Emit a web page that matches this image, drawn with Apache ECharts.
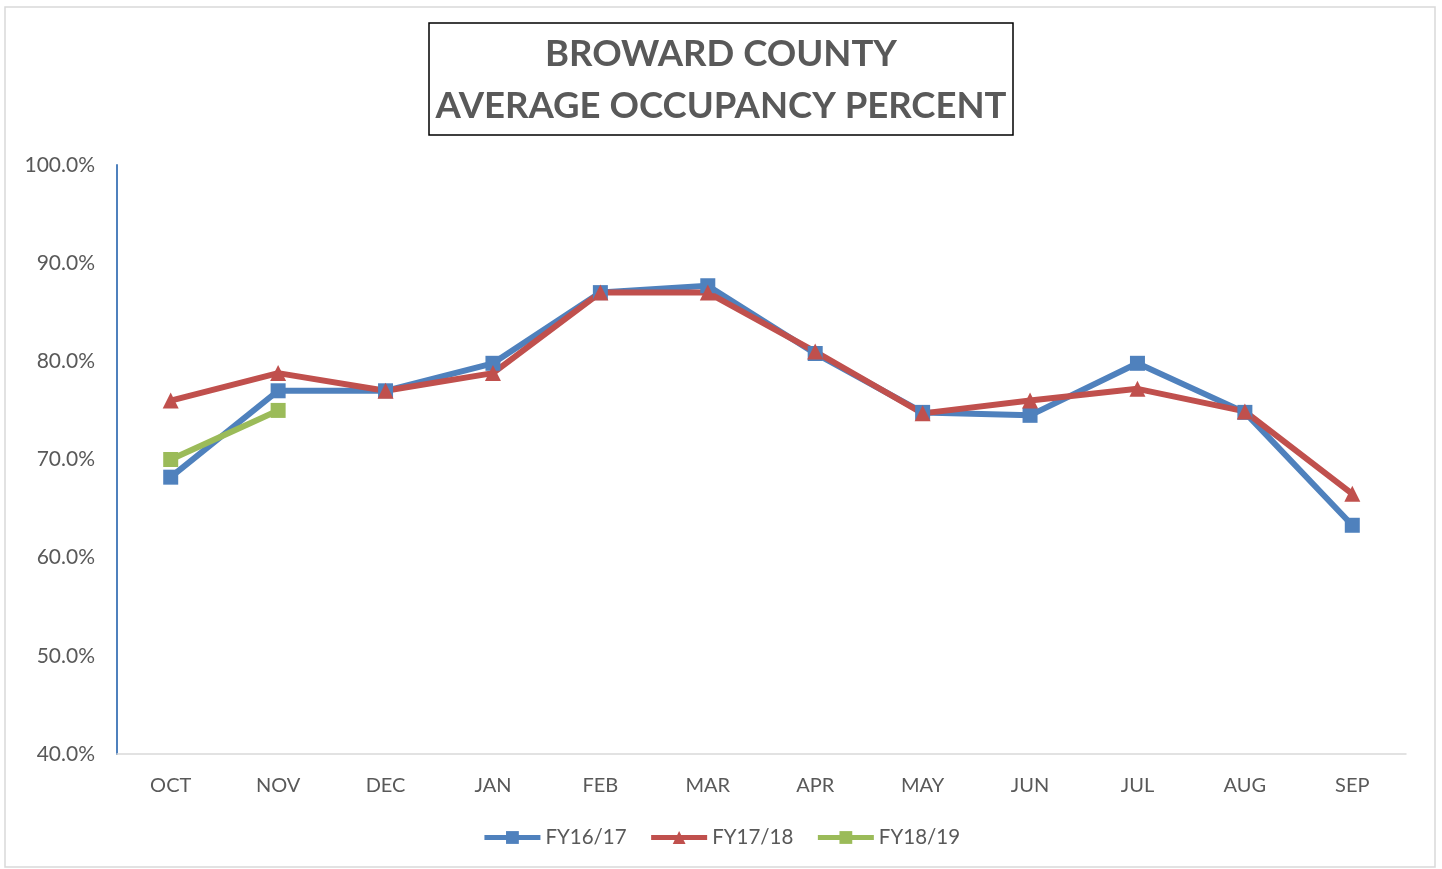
<!DOCTYPE html>
<html><head><meta charset="utf-8">
<script src="https://cdn.jsdelivr.net/npm/echarts@6/dist/echarts.min.js"></script>
<style>html,body{margin:0;padding:0;background:#fff}#c{width:1442px;height:869px}</style>
</head><body><div id="c"></div>
<script>
const categories = ['OCT','NOV','DEC','JAN','FEB','MAR','APR','MAY','JUN','JUL','AUG','SEP'];
const fy1617 = [68.2, 77.0, 77.0, 79.8, 87.0, 87.7, 80.8, 74.8, 74.5, 79.8, 74.8, 63.3];
const fy1718 = [76.0, 78.8, 77.0, 78.8, 87.0, 87.0, 81.0, 74.7, 76.0, 77.2, 74.9, 66.5];
const fy1819 = [70.0, 75.0];
const seriesNames = ['FY16/17','FY17/18','FY18/19'];
const titleText = 'BROWARD COUNTY\nAVERAGE OCCUPANCY PERCENT';

const font = 'Lato, "Open Sans", sans-serif';
const chart = echarts.init(document.getElementById('c'));
chart.setOption({
  animation: false,
  backgroundColor: '#fff',
  textStyle: {fontFamily: font},
  graphic: [{type:'rect', shape:{x:5,y:7,width:1430,height:860}, style:{fill:'none', stroke:'#D9D9D9', lineWidth:1.5}, silent:true}],
  title: {
    text: titleText, left: 'center', top: 23,
    borderColor: '#000', borderWidth: 1.5, padding: [5, 7, 3, 7],
    textStyle: {fontFamily: font, fontWeight: 'bold', fontSize: 36.5, color: '#595959', lineHeight: 52}
  },
  legend: {
    bottom: 16, left: 'center', itemWidth: 56, itemHeight: 16, itemGap: 22,
    lineStyle: {width: 5},
    textStyle: {fontSize: 20.5, color: '#595959', fontFamily: font},
    data: seriesNames
  },
  grid: {left: 117, right: 36, top: 165, bottom: 115},
  xAxis: {
    type: 'category', data: categories, boundaryGap: true,
    axisLine: {lineStyle: {color: '#D9D9D9', width: 1.5}},
    axisTick: {show: false},
    axisLabel: {fontSize: 20, color: '#595959', margin: 22, fontFamily: font}
  },
  yAxis: {
    type: 'value', min: 40, max: 100, interval: 10,
    axisLine: {show: true, lineStyle: {color: '#4F81BD', width: 2}},
    axisTick: {show: false},
    splitLine: {show: false},
    axisLabel: {fontSize: 21, color: '#595959', margin: 22, fontFamily: font, formatter: v => v.toFixed(1) + '%'}
  },
  series: [
    {name: seriesNames[0], type: 'line', data: fy1617, symbol: 'rect', symbolSize: 15,
     lineStyle: {width: 6, color: '#4F81BD'}, itemStyle: {color: '#4F81BD'}},
    {name: seriesNames[1], type: 'line', data: fy1718, symbol: 'triangle', symbolSize: 16,
     lineStyle: {width: 6, color: '#C0504D'}, itemStyle: {color: '#C0504D'}},
    {name: seriesNames[2], type: 'line', data: fy1819, symbol: 'rect', symbolSize: 15,
     lineStyle: {width: 6, color: '#9BBB59'}, itemStyle: {color: '#9BBB59'}}
  ]
});
</script></body></html>
